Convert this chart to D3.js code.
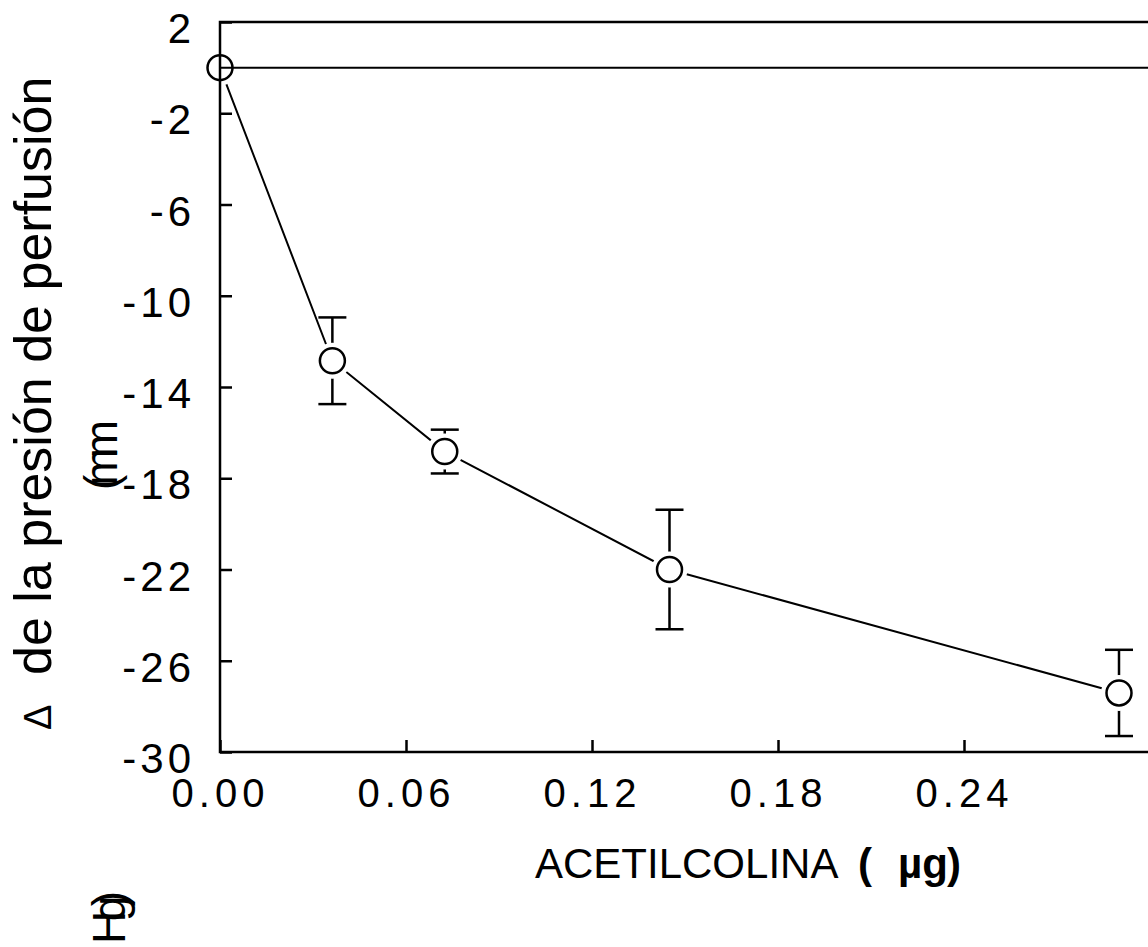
<!DOCTYPE html>
<html>
<head>
<meta charset="utf-8">
<script src="https://cdn.jsdelivr.net/npm/d3@7"></script>
<style>
  html, body { margin: 0; padding: 0; background: #fff; overflow: hidden; }
  svg { display: block; font-family: "Liberation Sans", Arial, Helvetica, sans-serif; }
</style>
</head>
<body>
<svg id="chart" width="1148" height="947"></svg>
<script>
// Acetylcholine dose (µg) vs change in perfusion pressure (mm Hg), mean ± error
const doses = [0, 0.03625, 0.0725, 0.145, 0.29];
const deltaPressure = [0, -12.85, -16.83, -22.0, -27.41];
const errors = [0, 1.9, 0.96, 2.62, 1.89];
const xTickValues = [0, 0.06, 0.12, 0.18, 0.24];
const xTickLabels = ["0.00", "0.06", "0.12", "0.18", "0.24"];
const yTickValues = [2, -2, -6, -10, -14, -18, -22, -26, -30];

const svg = d3.select("#chart");
const ink = "#000";

const x = d3.scaleLinear().domain([0, 0.30]).range([220, 1150]);
const y = d3.scaleLinear().domain([-30, 2]).range([752, 22]);

const points = doses.map((d, i) => ({ x: d, y: deltaPressure[i], e: errors[i] }));

// connecting line
svg.append("path")
  .datum(points)
  .attr("fill", "none")
  .attr("stroke", ink)
  .attr("stroke-width", 2)
  .attr("d", d3.line().x(d => x(d.x)).y(d => y(d.y)));

// error bars with caps
const eb = svg.append("g").attr("stroke", ink).attr("stroke-width", 2.5);
points.filter(d => d.e > 0).forEach(d => {
  const cx = x(d.x);
  eb.append("line").attr("x1", cx).attr("x2", cx).attr("y1", y(d.y + d.e)).attr("y2", y(d.y - d.e));
  eb.append("line").attr("x1", cx - 14).attr("x2", cx + 14).attr("y1", y(d.y + d.e)).attr("y2", y(d.y + d.e));
  eb.append("line").attr("x1", cx - 14).attr("x2", cx + 14).attr("y1", y(d.y - d.e)).attr("y2", y(d.y - d.e));
});

// white halo behind each marker, then the open circle
svg.append("g").selectAll("circle").data(points).join("circle")
  .attr("cx", d => x(d.x)).attr("cy", d => y(d.y)).attr("r", 18)
  .attr("fill", "#fff");
svg.append("g").selectAll("circle").data(points).join("circle")
  .attr("cx", d => x(d.x)).attr("cy", d => y(d.y)).attr("r", 12.5)
  .attr("fill", "#fff").attr("stroke", ink).attr("stroke-width", 2.5);

// frame
const frame = svg.append("g").attr("stroke", ink).attr("stroke-width", 2.5).attr("fill", "none");
frame.append("rect")
  .attr("x", x(0)).attr("y", y(2))
  .attr("width", x(0.30) - x(0)).attr("height", y(-30) - y(2));

// zero reference line
frame.append("line")
  .attr("x1", x(0)).attr("x2", x(0.30)).attr("y1", y(0)).attr("y2", y(0))
  .attr("stroke-width", 2);

// axes with inward ticks
const xAxis = d3.axisTop(x).tickValues(xTickValues).tickSize(12)
  .tickFormat((d, i) => xTickLabels[i]).tickSizeOuter(0);
const gx = svg.append("g").attr("transform", `translate(0,${y(-30)})`).call(xAxis);
gx.select(".domain").remove();
gx.selectAll(".tick line").attr("stroke", ink).attr("stroke-width", 2.5);
gx.selectAll(".tick text")
  .attr("y", 55).attr("dy", 0)
  .attr("font-size", 40).attr("letter-spacing", 5)
  .attr("fill", ink).attr("font-family", "Liberation Sans, Arial, sans-serif");

const yAxis = d3.axisRight(y).tickValues(yTickValues).tickSize(12)
  .tickFormat(d => String(d)).tickSizeOuter(0);
const gy = svg.append("g").attr("transform", `translate(${x(0)},0)`).call(yAxis);
gy.select(".domain").remove();
gy.selectAll(".tick line").attr("stroke", ink).attr("stroke-width", 2.5);
gy.selectAll(".tick text")
  .attr("x", -25).attr("dy", 20.5)
  .attr("text-anchor", "end")
  .attr("font-size", 42).attr("letter-spacing", 4)
  .attr("fill", ink).attr("font-family", "Liberation Sans, Arial, sans-serif");

// y axis title
const yt = svg.append("text")
  .attr("transform", "translate(51,730) rotate(-90)")
  .attr("fill", ink);
yt.append("tspan").attr("x", 0).attr("font-size", 38).text("\u0394");
yt.append("tspan").attr("x", 55).attr("font-size", 52).text("de la presión de perfusión");

svg.append("text")
  .attr("transform", "translate(117,490) rotate(-90)")
  .attr("font-size", 46).attr("fill", ink)
  .attr("textLength", 70).attr("lengthAdjust", "spacing")
  .text("(mm");

svg.append("text")
  .attr("transform", "translate(125,944) rotate(-90)")
  .attr("font-size", 46).attr("fill", ink)
  .attr("textLength", 53).attr("lengthAdjust", "spacing")
  .text("Hg)");

// x axis title
const xt = svg.append("text").attr("y", 878).attr("fill", ink).attr("font-size", 42);
xt.append("tspan").attr("x", 535).text("ACETILCOLINA");
xt.append("tspan").attr("x", 858).attr("font-weight", "bold").text("(");
xt.append("tspan").attr("x", 898).attr("font-weight", "bold").text("µg");
xt.append("tspan").attr("x", 947).attr("font-weight", "bold").text(")");
</script>
</body>
</html>
